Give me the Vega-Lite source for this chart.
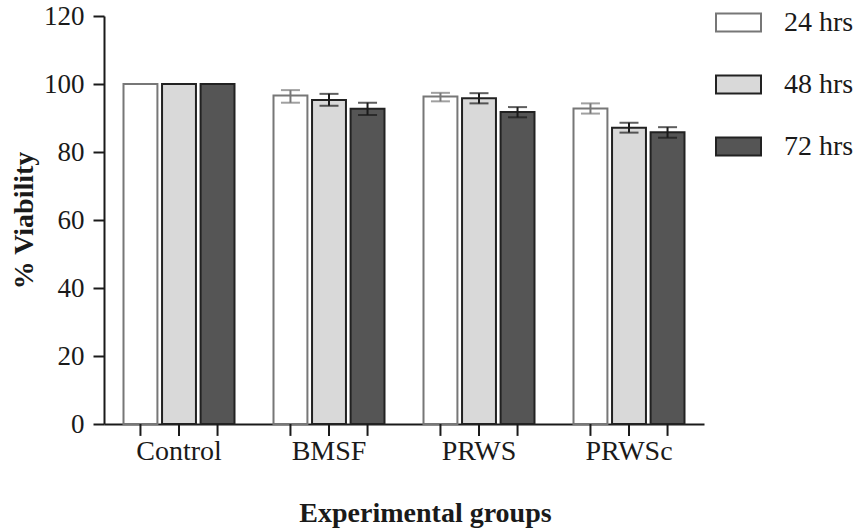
{
  "$schema": "https://vega.github.io/schema/vega-lite/v6.json",
  "autosize": {"type": "none"},
  "padding": {"left": 104, "top": 16, "right": 158, "bottom": 107},
  "width": 600,
  "height": 408,
  "background": "white",
  "config": {
    "view": {"stroke": null},
    "font": "Liberation Serif",
    "axis": {"grid": false, "domainColor": "#1a1a1a", "domainWidth": 2, "tickColor": "#1a1a1a", "tickWidth": 2, "labelColor": "#1a1a1a", "titleColor": "#1a1a1a", "labelFont": "Liberation Serif", "titleFont": "Liberation Serif", "titleFontWeight": "bold"}
  },
  "data": {
    "values": [
      {"group": "Control", "time": "24 hrs", "value": 100, "lo": null, "hi": null},
      {"group": "Control", "time": "48 hrs", "value": 100, "lo": null, "hi": null},
      {"group": "Control", "time": "72 hrs", "value": 100, "lo": null, "hi": null},
      {"group": "BMSF", "time": "24 hrs", "value": 96.6, "lo": 94.5, "hi": 98.2},
      {"group": "BMSF", "time": "48 hrs", "value": 95.3, "lo": 93.6, "hi": 97.1},
      {"group": "BMSF", "time": "72 hrs", "value": 92.7, "lo": 90.9, "hi": 94.5},
      {"group": "PRWS", "time": "24 hrs", "value": 96.3, "lo": 94.9, "hi": 97.4},
      {"group": "PRWS", "time": "48 hrs", "value": 95.8, "lo": 94.3, "hi": 97.3},
      {"group": "PRWS", "time": "72 hrs", "value": 91.8, "lo": 90.2, "hi": 93.2},
      {"group": "PRWSc", "time": "24 hrs", "value": 92.8, "lo": 91.3, "hi": 94.3},
      {"group": "PRWSc", "time": "48 hrs", "value": 87.1, "lo": 85.7, "hi": 88.6},
      {"group": "PRWSc", "time": "72 hrs", "value": 85.8, "lo": 84.2, "hi": 87.3}
    ]
  },
  "encoding": {
    "x": {
      "field": "group", "type": "nominal", "sort": null,
      "scale": {"domain": ["Control", "BMSF", "PRWS", "PRWSc"], "paddingInner": 0.26, "paddingOuter": 0.13},
      "axis": {"title": "Experimental groups", "labelAngle": 0, "labelFontSize": 28, "labelPadding": 1, "tickSize": 12, "tickOpacity": 0, "titleFontSize": 28, "titlePadding": 34, "titleX": 321}
    },
    "xOffset": {
      "field": "time", "type": "nominal",
      "scale": {"domain": ["24 hrs", "48 hrs", "72 hrs"], "paddingInner": 0.12, "paddingOuter": 0}
    }
  },
  "layer": [
    {
      "mark": {"type": "bar", "strokeWidth": 2, "clip": false},
      "encoding": {
        "y": {
          "field": "value", "type": "quantitative",
          "scale": {"domain": [0, 120], "nice": false, "zero": true},
          "axis": {"title": "% Viability", "values": [0, 20, 40, 60, 80, 100, 120], "tickSize": 11, "labelPadding": 9, "labelFontSize": 27, "titleFontSize": 28, "titlePadding": 5}
        },
        "fill": {
          "field": "time", "type": "nominal",
          "scale": {"domain": ["24 hrs", "48 hrs", "72 hrs"], "range": ["#ffffff", "#d9d9d9", "#555555"]},
          "legend": {"title": null, "orient": "none", "legendX": 611, "legendY": -17, "direction": "vertical", "symbolType": "M-1,-0.4H1V0.4H-1Z", "symbolSize": 2025, "symbolStrokeWidth": 2, "labelFont": "Liberation Serif", "labelFontSize": 28, "labelColor": "#1a1a1a", "labelOffset": 22, "rowPadding": 24}
        },
        "stroke": {
          "field": "time", "type": "nominal",
          "scale": {"domain": ["24 hrs", "48 hrs", "72 hrs"], "range": ["#777777", "#222222", "#222222"]}
        }
      }
    },
    {
      "transform": [{"filter": {"field": "lo", "valid": true}}],
      "mark": {"type": "rule", "strokeWidth": 2},
      "encoding": {
        "y": {"field": "lo", "type": "quantitative"},
        "y2": {"field": "hi"},
        "color": {"condition": {"test": "datum.time === '24 hrs'", "value": "#777777"}, "value": "#1a1a1a"}
      }
    },
    {
      "transform": [{"filter": {"field": "lo", "valid": true}}],
      "mark": {"type": "tick", "size": 19, "thickness": 2, "orient": "horizontal"},
      "encoding": {
        "y": {"field": "lo", "type": "quantitative"},
        "color": {"condition": {"test": "datum.time === '24 hrs'", "value": "#777777"}, "value": "#1a1a1a"}
      }
    },
    {
      "transform": [{"filter": {"field": "hi", "valid": true}}],
      "mark": {"type": "tick", "size": 19, "thickness": 2, "orient": "horizontal"},
      "encoding": {
        "y": {"field": "hi", "type": "quantitative"},
        "color": {"condition": {"test": "datum.time === '24 hrs'", "value": "#777777"}, "value": "#1a1a1a"}
      }
    },
    {
      "mark": {"type": "rule", "strokeWidth": 2, "color": "#1a1a1a", "clip": false},
      "encoding": {
        "y": {"datum": 0},
        "y2": {"datum": -3.5}
      }
    }
  ]
}
